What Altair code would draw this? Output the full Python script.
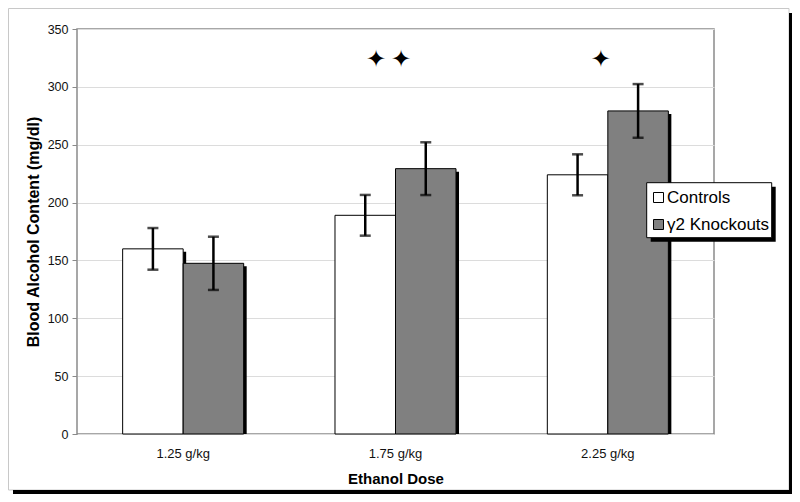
import altair as alt
import pandas as pd

doses = ["1.25 g/kg", "1.75 g/kg", "2.25 g/kg"]
groups = ["Controls", "γ2 Knockouts"]
controls_mean = [160, 189, 224]
controls_sem = [18, 17.6, 17.7]
knockouts_mean = [147.5, 229.3, 279.2]
knockouts_sem = [23, 22.8, 23.2]
star_labels = ["", "✦\u2009✦", "✦"]
star_level = [325, 325, 325]

rows = []
for i, d in enumerate(doses):
    for g, m, s in ((groups[0], controls_mean[i], controls_sem[i]),
                    (groups[1], knockouts_mean[i], knockouts_sem[i])):
        rows.append({"dose": d, "group": g, "mean": m, "lo": m - s, "hi": m + s})
df = pd.DataFrame(rows)
stars_df = pd.DataFrame({"dose": doses, "label": star_labels, "level": star_level})
one = pd.DataFrame({"k": [0]})

FONT = "Liberation Sans"
W, H = 637, 405
P_IN, P_OUT = 0.43, 0.215
STEP = W / (len(doses) - P_IN + 2 * P_OUT)
BAND = STEP * (1 - P_IN)
SH = 3  # drop-shadow offset in pixels

x_enc = alt.X("dose:N", sort=doses, title="Ethanol Dose",
              scale=alt.Scale(paddingInner=P_IN, paddingOuter=P_OUT),
              axis=alt.Axis(labelAngle=0, ticks=False, domain=False,
                            labelFontSize=13, labelPadding=13,
                            titleFontSize=15, titlePadding=11))
xo_enc = alt.XOffset("group:N", sort=groups,
                     scale=alt.Scale(paddingInner=0, paddingOuter=0, range=[0, BAND]))
xo_shadow = alt.XOffset("group:N", sort=groups,
                        scale=alt.Scale(paddingInner=0, paddingOuter=0,
                                        range=[SH, BAND + SH]))
y_scale = alt.Scale(domain=[0, 350], nice=False)

base = alt.Chart(df)

shadow = base.mark_bar(color="black", yOffset=SH, clip=True).encode(
    x=x_enc, xOffset=xo_shadow,
    y=alt.Y("mean:Q", scale=y_scale),
)

bars = base.mark_bar(stroke="black", strokeWidth=1).encode(
    x=x_enc, xOffset=xo_enc,
    y=alt.Y("mean:Q", scale=y_scale, title="Blood Alcohol Content (mg/dl)",
            axis=alt.Axis(values=list(range(0, 351, 50)), domain=False,
                          tickSize=5, tickColor="#8a8a8a",
                          labelFontSize=12.5, labelPadding=4,
                          titleFontSize=16, titlePadding=6,
                          gridColor="#dcdcdc")),
    color=alt.Color("group:N", sort=groups,
                    scale=alt.Scale(domain=groups, range=["#ffffff", "#808080"]),
                    legend=alt.Legend(title=None, orient="none", legendX=573, legendY=160,
                                      symbolType="square", symbolSize=100,
                                      symbolStrokeColor="black", symbolStrokeWidth=1,
                                      labelFontSize=17, labelFont=FONT, labelColor="black",
                                      labelOffset=0, rowPadding=9, padding=0)),
)

err = base.mark_rule(color="black", strokeWidth=2.5).encode(
    x=x_enc, xOffset=xo_enc,
    y=alt.Y("lo:Q", scale=y_scale), y2="hi:Q",
)

caps = base.transform_fold(["lo", "hi"], as_=["which", "val"]).mark_tick(
    color="black", thickness=2.5, size=11
).encode(
    x=x_enc, xOffset=xo_enc,
    y=alt.Y("val:Q", scale=y_scale),
)

stars = alt.Chart(stars_df).mark_text(fontSize=24, dx=-7, dy=2, color="black",
                                      font="DejaVu Sans").encode(
    x=alt.X("dose:N", sort=doses), y=alt.Y("level:Q", scale=y_scale), text="label:N"
)

# legend box with drop shadow
leg_shadow = alt.Chart(one).mark_rect(color="black").encode(
    x=alt.value(573.7), x2=alt.value(698.7), y=alt.value(157.7), y2=alt.value(212.7))
leg_box = alt.Chart(one).mark_rect(fill="white", stroke="black", strokeWidth=1).encode(
    x=alt.value(569.7), x2=alt.value(694.7), y=alt.value(153.7), y2=alt.value(208.7))

# outer frame with drop shadow
frame = alt.Chart(one).mark_rect(filled=False, stroke="#c8c8c8", strokeWidth=1).encode(
    x=alt.value(-68.5), x2=alt.value(712), y=alt.value(-20.5), y2=alt.value(461))
frame_r = alt.Chart(one).mark_rule(color="black", strokeWidth=4).encode(
    x=alt.value(714), y=alt.value(-16), y2=alt.value(465))
frame_b = alt.Chart(one).mark_rule(color="black", strokeWidth=4).encode(
    x=alt.value(-64), x2=alt.value(716), y=alt.value(463))

chart = alt.layer(
    frame, frame_r, frame_b, shadow, bars, err, caps, stars, leg_shadow, leg_box
).resolve_scale(
    xOffset="independent"
).properties(
    width=W, height=H,
    autosize=alt.AutoSizeParams(type="none"),
    padding={"left": 69, "top": 21, "right": 78, "bottom": 60},
).configure(
    font=FONT,
).configure_view(
    stroke="#8a8a8a", strokeWidth=1.5,
).configure_axis(
    labelColor="#111", titleColor="black", labelFont=FONT, titleFont=FONT,
    titleFontWeight="bold",
)

chart.save("out.html", embed_options={"renderer": "svg", "actions": False})
